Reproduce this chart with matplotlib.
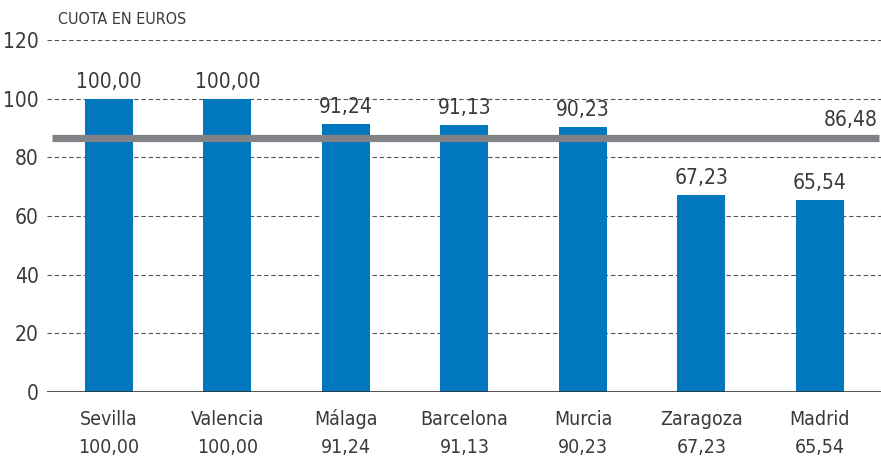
import matplotlib
matplotlib.use("Agg")
import matplotlib.pyplot as plt
from matplotlib import font_manager

names = {f.name for f in font_manager.fontManager.ttflist}
fam = 'Liberation Sans Narrow' if 'Liberation Sans Narrow' in names else 'DejaVu Sans'
plt.rcParams['font.family'] = [fam, 'DejaVu Sans']
if fam == 'DejaVu Sans':
    plt.rcParams['font.stretch'] = 'condensed'

categories = ["Sevilla", "Valencia", "Málaga", "Barcelona", "Murcia", "Zaragoza", "Madrid"]
values = [100.00, 100.00, 91.24, 91.13, 90.23, 67.23, 65.54]
average = 86.48
yticks = [0, 20, 40, 60, 80, 100, 120]

def fmt(v):
    return f"{v:.2f}".replace(".", ",")

fig = plt.figure(figsize=(8.81, 4.57), dpi=100)
W, H = 881, 457
ax = fig.add_axes([47 / W, (H - 392) / H, (881 - 47) / W, (392 - 40) / H])

bar_color = "#0077BF"
text_color = "#3a3a3a"
x = list(range(len(categories)))
ax.bar(x, values, width=0.405, color=bar_color, zorder=3)

for xi, v in zip(x, values):
    ax.text(xi, v + 2.4, fmt(v), ha="center", va="bottom", fontsize=15, color=text_color)

ax.set_xlim(-0.523, 6.515)
ax.set_ylim(0, 120)
ax.set_yticks(yticks)
ax.set_yticklabels([str(t) for t in yticks], fontsize=15, color=text_color)
ax.set_xticks(x)
ax.set_xticklabels([])
for xi, c, v in zip(x, categories, values):
    ax.text(xi, -11.3, c, ha="center", va="baseline", fontsize=14, color=text_color, clip_on=False)
    ax.text(xi, -20.8, fmt(v), ha="center", va="baseline", fontsize=14, color=text_color, clip_on=False)
ax.tick_params(axis="both", length=0)
ax.tick_params(axis="y", pad=6)

for t in yticks[1:]:
    ax.axhline(t, color="#555555", lw=0.8, ls=(0, (4, 2.5)), zorder=1)
ax.axhline(0, color="#333333", lw=1.2, zorder=4)

ax.plot([-0.48, 6.5], [average, average], color="#808285", lw=5.2, zorder=5, solid_capstyle="butt")
ax.text(6.49, average + 3.0, fmt(average), ha="right", va="bottom", fontsize=15, color=text_color)

for s in ax.spines.values():
    s.set_visible(False)

fig.text(58 / W, 1 - 20 / H, "CUOTA EN EUROS", fontsize=11.5, color=text_color, va="center", ha="left")

fig.savefig("out.png", dpi=100)
